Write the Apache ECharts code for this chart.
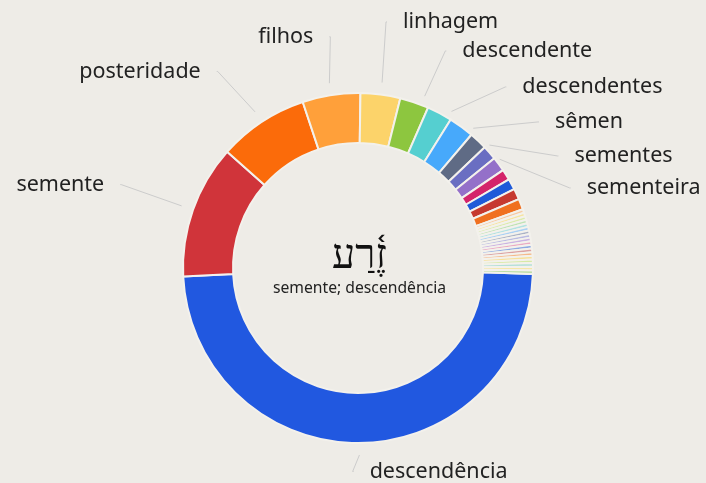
<!DOCTYPE html>
<html>
<head>
<meta charset="utf-8">
<script src="https://cdn.jsdelivr.net/npm/echarts@6/dist/echarts.min.js"></script>
<style>
html,body{margin:0;padding:0;background:#eeece7;}
#c{width:706px;height:483px;}
</style>
</head>
<body>
<div id="c"></div>
<script>
const categories = ["descendência","semente","posteridade","filhos","linhagem","descendente","descendentes","sêmen","sementes","sementeira",
  "outro 1","outro 2","outro 3","outro 4","outro 5","outro 6","outro 7","outro 8","outro 9","outro 10","outro 11","outro 12",
  "outro 13","outro 14","outro 15","outro 16","outro 17","outro 18","outro 19","outro 20","outro 21","outro 22","outro 23"];
const values = [146,37,25,16,11,8,7,7,5,4,4,3,3,3,3,1,1,1,1,1,1,1,1,1,1,1,1,1,1,1,1,1,1];
const labeledCount = 10;
const colors = ["#2158e0","#d0343a","#fb6b0a","#ffa03a","#fcd36a","#8dc63f","#55cfd0","#47a9fb","#5f6b85","#6a6ec2",
  "#9470c9","#d4246a","#1f5ad8","#c6392f","#f07020",
  "#f6c9a2","#f6e4a0","#dcebab","#bfe3b4","#b2e2e2","#aad0f4","#aab2c6","#babbe2","#cbb2e2","#eaaac4",
  "#8eaae2","#dca2a2","#f5b98a","#f7e09a","#d6eaa4","#b4e0d8","#f4e6a8","#b8dca0"];
const centerTitle = "זֶ֫רַע";
const centerSub = "semente; descendência";
// small label nudges applied after the pie's own label layout
const labelNudge = {
  "descendência":[-7,5], "semente":[-17,-6], "posteridade":[-12,-2], "filhos":[8,-1],
  "linhagem":[-2,-15], "descendente":[-23,-19], "descendentes":[-3,-16],
  "sêmen":[3,-14], "sementes":[4,-13], "sementeira":[4,-14]
};
const lineStartGap = 12;

const data = categories.map((n,i)=>({
  name:n, value:values[i],
  itemStyle:{color:colors[i]},
  label:{show:i<labeledCount},
  labelLine:{show:i<labeledCount}
}));

const chart = echarts.init(document.getElementById('c'));
chart.setOption({
  backgroundColor:'#eeece7',
  animation:false,
  series:[{
    type:'pie',
    center:[358,268],
    radius:[125,175],
    startAngle:-2,
    clockwise:true,
    avoidLabelOverlap:true,
    itemStyle:{borderColor:'#f3f1ec',borderWidth:2},
    label:{fontFamily:'Noto Sans',fontSize:21.5,color:'#222',lineHeight:31,distanceToLabelLine:16,overflow:'none'},
    labelLine:{length:58,length2:1,lineStyle:{color:'#cccccc',width:1}},
    labelLayout:function(p){
      const nd = labelNudge[categories[p.dataIndex]];
      if (!nd || !p.labelLinePoints) return {};
      const pts = p.labelLinePoints.map(q=>[q[0],q[1]]);
      const ux = pts[1][0]-pts[0][0], uy = pts[1][1]-pts[0][1];
      const ul = Math.sqrt(ux*ux+uy*uy) || 1;
      pts[0] = [pts[0][0]+ux/ul*lineStartGap, pts[0][1]+uy/ul*lineStartGap];
      pts[1] = [pts[1][0]+nd[0], pts[1][1]+nd[1]];
      pts[2] = [pts[2][0]+nd[0], pts[2][1]+nd[1]];
      return {dx:nd[0], dy:nd[1], labelLinePoints:pts};
    },
    data:data
  }],
  graphic:[
    {type:'text',x:359.5,y:237,style:{text:centerTitle,font:'41px "Liberation Serif"',fill:'#111',align:'center',verticalAlign:'top'}},
    {type:'text',x:359.5,y:281,style:{text:centerSub,font:'15.7px "Noto Sans"',fill:'#222',align:'center',verticalAlign:'top'}}
  ]
});
</script>
</body>
</html>
